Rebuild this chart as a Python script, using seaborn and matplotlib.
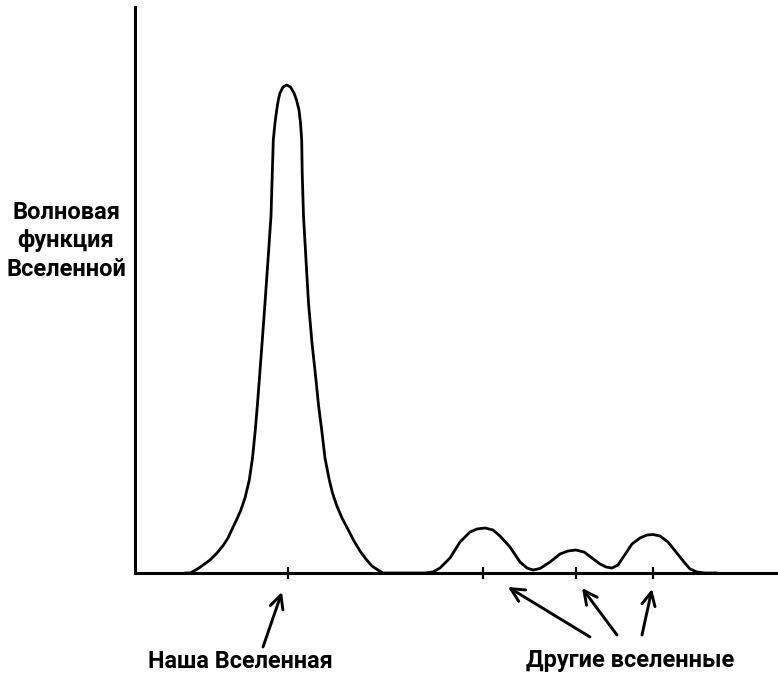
import matplotlib
matplotlib.use("Agg")
import matplotlib.pyplot as plt
import seaborn as sns
import pandas as pd

# Curve readings (x position, wave-function height)
curve_x = [185, 190, 194, 199, 204.5, 210, 217, 223.5, 228, 231.7, 236, 240.5, 245, 249.3, 252.5, 255.3,
           257.4, 259.3, 262, 265, 268, 271, 272.3, 273.3, 275, 276.7, 278.3, 280, 283, 286.7,
           290.5, 294, 296.5, 299, 300.5, 301.7, 302.2, 303.5, 306, 308.5, 312, 316, 318.5, 321.7, 325,
           329.3, 332.5, 336.5, 342, 348.3, 354, 360, 366.7, 372, 378, 383,
           425, 433, 440, 450, 460, 470, 477, 485, 493, 500, 510, 520, 527, 533, 540, 550, 560, 568, 576,
           584, 592, 600, 606, 612, 618, 624, 632, 640, 647, 653, 660, 668, 676, 684, 690, 697, 705, 717]
curve_y = [0, 0, 2, 5, 9, 13, 20, 28, 35, 43, 52, 62, 75, 93, 115, 143,
           168, 193, 229, 270, 313, 357, 400, 433, 450, 463, 473, 480, 486, 488,
           486, 480, 473, 463, 450, 433, 400, 357, 313, 270, 230, 193, 168, 143, 115,
           93, 80, 68, 55, 43, 32, 22, 13, 7, 3, 0,
           0, 1, 5, 15, 31, 41, 44, 45, 43, 37, 26, 11, 5, 3, 4.5, 11, 19, 22, 23,
           21, 15, 9, 6, 5, 8, 17, 29, 35, 38, 38.5, 37, 31, 21, 11, 4, 1, 0, 0]

tick_positions = [288, 483, 576, 653]

y_label = "Волновая\nфункция\nВселенной"
our_label = "Наша Вселенная"
other_label = "Другие вселенные"

sns.set_theme(style="white")
plt.rcParams["font.family"] = ["Roboto", "DejaVu Sans"]

W, H = 778, 674
fig = plt.figure(figsize=(W / 100, H / 100), dpi=100)
ax = fig.add_axes([135 / W, 101 / H, (W - 135) / W, 566 / H])

df = pd.DataFrame({"x": curve_x, "y": curve_y})
sns.lineplot(data=df, x="x", y="y", ax=ax, color="black", linewidth=2.0,
             sort=False, estimator=None)

ax.set_xlim(135, 778)
ax.set_ylim(0, 566)
ax.set_xlabel("")
ax.set_ylabel("")
for s in ["top", "right"]:
    ax.spines[s].set_visible(False)
for s in ["left", "bottom"]:
    ax.spines[s].set_color("black")
    ax.spines[s].set_linewidth(2.2)
ax.set_xticks(tick_positions)
ax.set_xticklabels([])
ax.set_yticks([])
ax.tick_params(axis="x", direction="inout", length=9, width=1.6, color="black", bottom=True)

# Labels
ax.text(66, 573 - 241, y_label, ha="center", va="center", fontsize=17, fontweight="bold",
        linespacing=1.33, clip_on=False, color="black")
ax.text(240, 573 - 661, our_label, ha="center", va="center", fontsize=16.8, fontweight="bold",
        clip_on=False, color="black")
ax.text(630, 573 - 661, other_label, ha="center", va="center", fontsize=17, fontweight="bold",
        clip_on=False, color="black")

arrow_kw = dict(arrowstyle="->,head_length=0.8,head_width=0.4", color="black", lw=2.1,
                shrinkA=0, shrinkB=0)
arrows = [((263, 647), (282, 592)), ((590, 637), (508, 587)),
          ((617, 635), (582, 588)), ((642, 635), (652, 589))]
for (tx, ty), (hx, hy) in arrows:
    ax.annotate("", xy=(hx, 573 - hy), xytext=(tx, 573 - ty), arrowprops=arrow_kw,
                annotation_clip=False)

fig.savefig("out.png", dpi=100, facecolor="white")
